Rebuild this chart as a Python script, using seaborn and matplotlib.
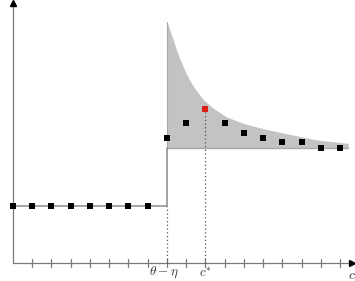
import numpy as np
import pandas as pd
import matplotlib
matplotlib.use("Agg")
import matplotlib.pyplot as plt
import seaborn as sns

# ---- data ----
low_x = [0, 1, 2, 3, 4, 5, 6, 7]
low_y = [1.0, 1.0, 1.0, 1.0, 1.0, 1.0, 1.0, 1.0]
high_x = [8, 9, 11, 12, 13, 14, 15, 16, 17]
high_y = [2.17, 2.43, 2.43, 2.26, 2.18, 2.10, 2.10, 2.0, 2.0]
red_x = [10]
red_y = [2.68]
curve_x = [8.0, 8.15, 8.33, 8.5, 8.68, 9.02, 9.37, 9.89, 10.41, 11.10, 11.96, 12.83, 14.04, 15.78, 17.42]
curve_y = [4.20, 4.05, 3.88, 3.70, 3.54, 3.28, 3.07, 2.84, 2.69, 2.54, 2.43, 2.35, 2.26, 2.14, 2.08]
band_floor = 2.0
step_x = [0, 8, 8]
step_y = [1.0, 1.0, 2.0]
tick_pos = list(range(1, 18))
theta_eta = 8
c_star = 10
labels = {"theta": r"$\theta-\eta$", "cstar": r"$c^{*}$", "c": r"$c$"}

sns.set_theme(style="white")
plt.rcParams["mathtext.fontset"] = "cm"

fig = plt.figure(figsize=(3.55, 2.81), dpi=100)
ax = fig.add_axes([0, 0, 1, 1])

axis_col = "#7a7a7a"
# shaded band
ax.fill_between(curve_x, band_floor, curve_y, color="#c3c3c3", lw=0, zorder=1)
ax.plot([curve_x[0], curve_x[-1]], [band_floor, band_floor], color="#a8a8a8", lw=1.0, zorder=2)
ax.plot([curve_x[0], curve_x[0]], [band_floor, curve_y[0]], color="#a8a8a8", lw=0.8, zorder=2)

# axes
ax.plot([0, 17.55], [0, 0], color=axis_col, lw=0.9, zorder=2)
ax.plot([0, 0], [0, 4.47], color=axis_col, lw=0.9, zorder=2)
ax.plot([17.6], [0], marker=">", color="black", ms=5, zorder=3)
ax.plot([0], [4.52], marker="^", color="black", ms=5, zorder=3)
for t in tick_pos:
    ax.plot([t, t], [-0.07, 0.07], color=axis_col, lw=0.9, zorder=2)

# step function
ax.plot(step_x, step_y, color="#8a8a8a", lw=1.1, zorder=2)

# dotted guides
ax.plot([theta_eta, theta_eta], [0, 1.0], color="#555555", lw=0.9, ls=(0, (1, 2)), zorder=2)
ax.plot([c_star, c_star], [0, red_y[0]], color="#555555", lw=0.9, ls=(0, (1, 2)), zorder=2)

# points
df_low = pd.DataFrame({"x": low_x, "y": low_y})
df_high = pd.DataFrame({"x": high_x, "y": high_y})
df_red = pd.DataFrame({"x": red_x, "y": red_y})
sns.scatterplot(data=df_low, x="x", y="y", marker="s", color="black", s=14, linewidth=0, ax=ax, zorder=4)
sns.scatterplot(data=df_high, x="x", y="y", marker="s", color="black", s=14, linewidth=0, ax=ax, zorder=4)
sns.scatterplot(data=df_red, x="x", y="y", marker="s", color="#e0201b", s=16, linewidth=0, ax=ax, zorder=4)
ax.set_xlim(-0.675, 17.77)
ax.set_ylim(-0.313, 4.574)
ax.axis("off")

ax.text(theta_eta - 0.15, -0.17, labels["theta"], ha="center", va="center", fontsize=9.5, color="#333333")
ax.text(c_star, -0.17, labels["cstar"], ha="center", va="center", fontsize=9.5, color="#333333")
ax.text(17.6, -0.2, labels["c"], ha="center", va="center", fontsize=10, color="#333333")

fig.savefig("out.png", dpi=100)
